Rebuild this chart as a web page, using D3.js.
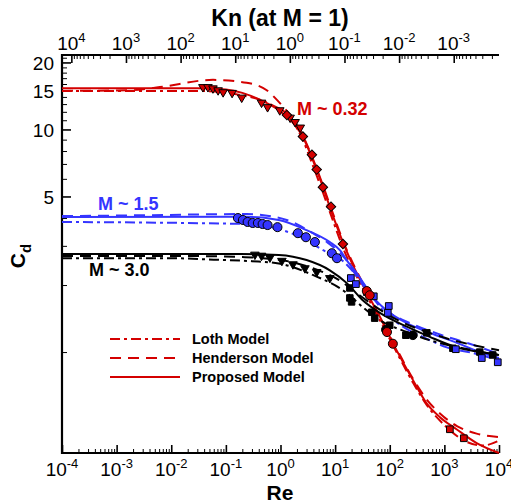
<!DOCTYPE html>
<html>
<head>
<meta charset="utf-8">
<script src="https://cdn.jsdelivr.net/npm/d3@7"></script>
<style>
  body { margin: 0; background: #fff; }
  svg { font-family: "Liberation Sans", Arial, sans-serif; }
</style>
</head>
<body>
<div class="chart"></div>
<script>
var svgWidth = 511;
var svgHeight = 503;

var margin = { top: 55, right: 12, bottom: 50, left: 62 };
var width = svgWidth - margin.left - margin.right;
var height = svgHeight - margin.top - margin.bottom;

// tick values
var reTicks = [1e-4, 1e-3, 1e-2, 1e-1, 1, 10, 100, 1e3, 1e4];
var knTicks = [1e4, 1e3, 1e2, 10, 1, 1e-1, 1e-2, 1e-3];
var cdLabels = [5, 10, 15, 20];
var cdTicks = [1, 2, 3, 4, 5, 6, 7, 8, 9, 10, 11, 12, 13, 14, 15, 16, 17, 18, 19, 20, 21];

// Kn = sqrt(gamma*pi/2) * M / Re, at M = 1
var knFactor = Math.sqrt(1.4 * Math.PI / 2);

// model curves [Re, Cd]
// M ~ 0.32
var lothRed = [[1e-4,14.9],[0.03,14.9],[0.18,14.3],[0.64,13.0],[1.5,11.3],[2.6,8.9],[3.9,6.9],[6.0,5.2],[9.1,3.9],[14,2.93],[32,1.94],[66,1.39],[133,1.0],[265,0.73],[470,0.58],[1000,0.47],[2300,0.40],[5000,0.38],[1e4,0.40]];
var hendersonRed = [[1e-4,14.9],[0.0018,15.0],[0.0062,15.5],[0.058,16.7],[0.24,16.2],[0.56,15.0],[0.93,13.3],[1.5,11.6],[2.3,9.9],[3.9,7.4],[6.0,5.6],[9.1,4.2],[14,3.15],[32,2.04],[66,1.44],[135,1.03],[265,0.76],[480,0.61],[830,0.53],[1700,0.465],[3900,0.43],[1e4,0.415]];
var proposedRed = [[1e-4,15.3],[0.03,15.3],[0.1,15.1],[0.2,14.6],[0.42,13.6],[0.93,12.2],[1.7,10.7],[2.6,9.2],[3.9,7.3],[6.0,5.5],[9.1,4.1],[14,3.1],[19,2.6],[32,2.0],[66,1.44],[133,1.02],[265,0.75],[470,0.59],[830,0.51],[1670,0.45],[3900,0.39],[1e4,0.352]];

// M ~ 1.5
var lothBlue = [[1e-4,3.84],[0.24,3.76],[0.93,3.57],[3.0,3.18],[6.0,2.87],[12,2.64],[32,2.04],[75,1.54],[174,1.30],[404,1.17],[1110,1.05],[3300,0.99],[1e4,0.92]];
var hendersonBlue = [[1e-4,4.08],[0.0041,4.12],[0.24,4.17],[1.3,3.92],[3.9,3.42],[7.1,3.12],[15,2.64],[28,2.1],[53,1.71],[100,1.5],[233,1.35],[826,1.2],[2900,1.09],[1e4,0.98]];
var proposedBlue = [[1e-4,4.04],[0.24,4.05],[0.93,3.92],[3.0,3.53],[8.0,3.12],[12.2,2.87],[17,2.55],[25,2.26],[49,1.77],[100,1.50],[206,1.35],[542,1.22],[1690,1.10],[4450,1.0],[1e4,0.94]];

// M ~ 3.0
var lothBlack = [[1e-4,2.64],[0.01,2.64],[0.06,2.6],[0.3,2.56],[0.93,2.5],[3.9,2.22],[16.4,1.84],[32,1.59],[66,1.39],[206,1.23],[542,1.13],[2180,1.04],[1e4,0.97]];
var hendersonBlack = [[1e-4,2.70],[0.02,2.70],[0.2,2.67],[0.93,2.6],[3.9,2.38],[12,2.1],[28,1.8],[66,1.55],[150,1.38],[400,1.25],[1260,1.14],[4450,1.06],[1e4,1.02]];
var proposedBlack = [[1e-4,2.76],[0.18,2.76],[0.93,2.73],[3.0,2.59],[8.0,2.33],[16.4,2.04],[32,1.71],[66,1.50],[206,1.30],[542,1.17],[1690,1.05],[4450,1.0],[1e4,0.97]];

// experimental points [Re, Cd]
var redTriangles = [[0.038,15.5],[0.047,15.5],[0.058,15.3],[0.072,15.0],[0.089,14.7],[0.13,14.6],[0.195,13.9],[0.45,13.2],[0.58,12.6],[0.97,12.2],[1.5,11.3],[1.85,10.8],[2.3,10.2]];
var redDiamonds = [[1.31,11.6],[2.57,9.3],[3.76,7.7],[4.6,6.6],[5.97,5.5],[8.4,4.5],[13.9,3.06]];
var redCircles = [[38,1.88],[43,1.8],[89,1.23],[114,1.09]];
var redSquares = [[1260,0.45],[2270,0.41]];
var blueCircles = [[0.166,4.0],[0.205,3.92],[0.25,3.84],[0.31,3.8],[0.385,3.8],[0.47,3.76],[0.58,3.72],[0.88,3.64],[2.08,3.42],[2.92,3.28],[4.26,3.12],[8.7,2.78],[10.8,2.64]];
var blueSquares = [[19.4,2.15],[24,2.02],[38,1.86],[51,1.78],[96,1.61],[92,1.50],[1620,1.03],[4840,0.94],[9500,0.90]];
var blackTriangles = [[0.34,2.74],[0.45,2.71],[0.64,2.66],[1.06,2.57],[1.69,2.48],[2.8,2.38],[4.6,2.29],[8.0,2.15]];
var blackSquares = [[18.6,1.94],[18.6,1.75],[20,1.68],[47,1.51],[53,1.42],[100,1.32],[197,1.19],[478,1.22],[1430,1.04],[4450,1.0],[7700,0.97]];
var blackCircles = [[85,1.26],[265,1.19]];

var red = "#d40000";
var blue = "#3535ff";
var black = "#000";

var lothDash = "10,4,3,4";
var hendersonDash = "11,7";

var svg = d3.select(".chart")
  .append("svg")
  .attr("width", svgWidth)
  .attr("height", svgHeight);

var chartGroup = svg.append("g")
  .attr("transform", `translate(${margin.left}, ${margin.top})`);

var xScale = d3.scaleLog().domain([1e-4, 1e4]).range([0, width]);
var knScale = d3.scaleLog().domain([knFactor / 1e-4, knFactor / 1e4]).range([0, width]);
var yScale = d3.scaleLog().domain([0.352, 21.6]).range([height, 0]);

function minorTicks(majors, lo, hi) {
  var out = [];
  majors.forEach(function(m) {
    for (var k = 2; k <= 9; k++) {
      var v = m * k;
      if (v > lo && v < hi) out.push(v);
    }
  });
  return out;
}

var reMinor = minorTicks(reTicks, 1e-4, 1e4);
var knMinor = minorTicks([1e-4, 1e-3, 1e-2, 1e-1, 1, 10, 100, 1e3, 1e4], knFactor / 1e4, knFactor / 1e-4);

// ticks
chartGroup.append("g")
  .attr("transform", `translate(0, ${height})`)
  .call(d3.axisBottom(xScale).tickValues(reMinor).tickSize(-4).tickFormat(""))
  .call(g => g.select(".domain").remove());
chartGroup.append("g")
  .attr("transform", `translate(0, ${height})`)
  .call(d3.axisBottom(xScale).tickValues(reTicks).tickSize(-8).tickFormat(""))
  .call(g => g.select(".domain").remove())
  .selectAll("line").attr("stroke-width", 1.6);

chartGroup.append("g")
  .call(d3.axisTop(knScale).tickValues(knMinor).tickSize(-4).tickFormat(""))
  .call(g => g.select(".domain").remove());
chartGroup.append("g")
  .call(d3.axisTop(knScale).tickValues(knTicks).tickSize(-8).tickFormat(""))
  .call(g => g.select(".domain").remove())
  .selectAll("line").attr("stroke-width", 1.6);

chartGroup.append("g")
  .call(d3.axisLeft(yScale).tickValues(cdTicks.filter(d => cdLabels.indexOf(d) < 0)).tickSize(-5).tickFormat(""))
  .call(g => g.select(".domain").remove());
chartGroup.append("g")
  .call(d3.axisLeft(yScale).tickValues(cdLabels).tickSize(-9).tickFormat(""))
  .call(g => g.select(".domain").remove())
  .selectAll("line").attr("stroke-width", 1.6);

// axis lines
chartGroup.append("line").attr("x1", -1).attr("x2", width).attr("y1", height).attr("y2", height)
  .attr("stroke", "#000").attr("stroke-width", 2.2);
chartGroup.append("line").attr("x1", -1).attr("x2", width).attr("y1", 0).attr("y2", 0)
  .attr("stroke", "#000").attr("stroke-width", 2.2);
chartGroup.append("line").attr("x1", 0).attr("x2", 0).attr("y1", -1).attr("y2", height + 1)
  .attr("stroke", "#000").attr("stroke-width", 2.2);

// tick labels
function powerLabel(sel, e) {
  sel.append("tspan").text("10");
  sel.append("tspan").attr("dy", -8).attr("font-size", 13).text(e);
}

chartGroup.selectAll(".re-label")
  .data(reTicks)
  .enter()
  .append("text")
  .attr("x", d => xScale(d))
  .attr("y", height + 23)
  .attr("text-anchor", "middle")
  .attr("font-size", 19)
  .each(function(d) { powerLabel(d3.select(this), Math.round(Math.log10(d))); });

chartGroup.selectAll(".kn-label")
  .data(knTicks)
  .enter()
  .append("text")
  .attr("x", d => knScale(d))
  .attr("y", -5)
  .attr("text-anchor", "middle")
  .attr("font-size", 19)
  .each(function(d) { powerLabel(d3.select(this), Math.round(Math.log10(d))); });

chartGroup.selectAll(".cd-label")
  .data(cdLabels)
  .enter()
  .append("text")
  .attr("x", -8)
  .attr("y", d => yScale(d) + 8)
  .attr("text-anchor", "end")
  .attr("font-size", 19)
  .text(d => d);

// axis titles
svg.append("text")
  .attr("x", 280).attr("y", 26)
  .attr("text-anchor", "middle")
  .attr("font-size", 23).attr("font-weight", "bold")
  .text("Kn (at M = 1)");

svg.append("text")
  .attr("x", 280).attr("y", 500)
  .attr("text-anchor", "middle")
  .attr("font-size", 21).attr("font-weight", "bold")
  .text("Re");

var cdTitle = svg.append("text")
  .attr("transform", "translate(25, 256) rotate(-90)")
  .attr("text-anchor", "middle")
  .attr("font-weight", "bold");
cdTitle.append("tspan").attr("font-size", 21).text("C");
cdTitle.append("tspan").attr("font-size", 15).attr("dy", 6).text("d");

// curves
var line = d3.line()
  .x(d => xScale(d[0]))
  .y(d => yScale(d[1]))
  .curve(d3.curveMonotoneX);

var curves = [
  { data: lothRed, color: red, dash: lothDash },
  { data: hendersonRed, color: red, dash: hendersonDash },
  { data: proposedRed, color: red, dash: null },
  { data: lothBlue, color: blue, dash: lothDash },
  { data: hendersonBlue, color: blue, dash: hendersonDash },
  { data: proposedBlue, color: blue, dash: null },
  { data: lothBlack, color: black, dash: lothDash },
  { data: hendersonBlack, color: black, dash: hendersonDash },
  { data: proposedBlack, color: black, dash: null }
];

chartGroup.selectAll(".curve")
  .data(curves)
  .enter()
  .append("path")
  .attr("class", "curve")
  .attr("d", d => line(d.data))
  .attr("fill", "none")
  .attr("stroke", d => d.color)
  .attr("stroke-width", 2)
  .attr("stroke-dasharray", d => d.dash);

// markers
function drawPoints(data, type, size, fill, rotate) {
  chartGroup.append("g")
    .selectAll("path")
    .data(data)
    .enter()
    .append("path")
    .attr("d", d3.symbol().type(type).size(size))
    .attr("transform", d => `translate(${xScale(d[0])}, ${yScale(d[1])}) rotate(${rotate})`)
    .attr("fill", fill)
    .attr("stroke", "#000")
    .attr("stroke-width", 1);
}

drawPoints(blackTriangles, d3.symbolTriangle, 32, black, 180);
drawPoints(blackSquares, d3.symbolSquare, 42, black, 0);
drawPoints(blackCircles, d3.symbolCircle, 60, black, 0);
drawPoints(blueCircles, d3.symbolCircle, 64, blue, 0);
drawPoints(blueSquares, d3.symbolSquare, 45, blue, 0);
drawPoints(redTriangles, d3.symbolTriangle, 32, red, 180);
drawPoints(redDiamonds, d3.symbolSquare, 45, red, 45);
drawPoints(redCircles, d3.symbolCircle, 64, red, 0);
drawPoints(redSquares, d3.symbolSquare, 45, red, 0);

// labels for Mach groups
svg.append("text").attr("x", 297).attr("y", 115)
  .attr("font-size", 18).attr("font-weight", "bold").attr("fill", red)
  .text("M ~ 0.32");
svg.append("text").attr("x", 98).attr("y", 210)
  .attr("font-size", 18).attr("font-weight", "bold").attr("fill", blue)
  .text("M ~ 1.5");
svg.append("text").attr("x", 89).attr("y", 276)
  .attr("font-size", 18).attr("font-weight", "bold").attr("fill", black)
  .text("M ~ 3.0");

// legend
var legendItems = [
  { label: "Loth Model", dash: lothDash },
  { label: "Henderson Model", dash: hendersonDash },
  { label: "Proposed Model", dash: null }
];

var legend = svg.append("g").attr("transform", "translate(110, 339)");

legend.selectAll("line")
  .data(legendItems)
  .enter()
  .append("line")
  .attr("x1", 0).attr("x2", 70)
  .attr("y1", (d, i) => i * 19).attr("y2", (d, i) => i * 19)
  .attr("stroke", red)
  .attr("stroke-width", 2)
  .attr("stroke-dasharray", d => d.dash);

legend.selectAll("text")
  .data(legendItems)
  .enter()
  .append("text")
  .attr("x", 82)
  .attr("y", (d, i) => i * 19 + 5)
  .attr("font-size", 14.5)
  .attr("font-weight", "bold")
  .text(d => d.label);
</script>
</body>
</html>
